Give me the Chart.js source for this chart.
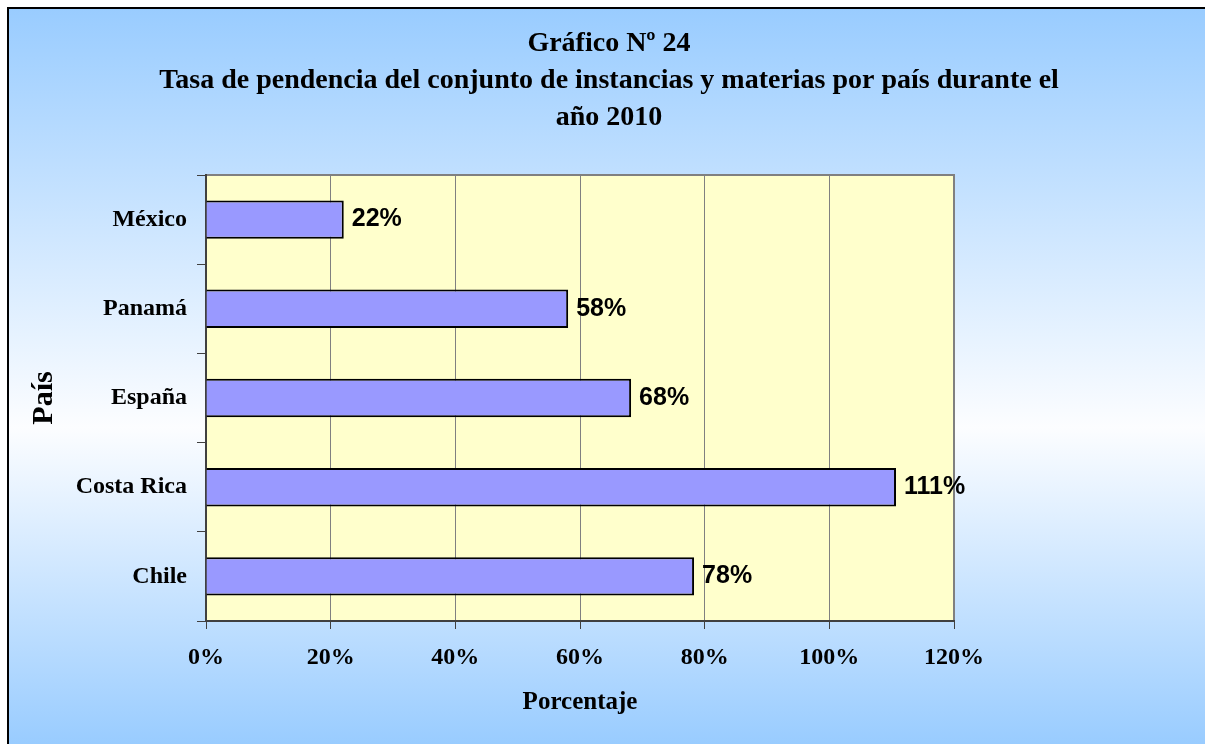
<!DOCTYPE html>
<html>
<head>
<meta charset="utf-8">
<script src="https://cdn.jsdelivr.net/npm/chart.js@4.4.0/dist/chart.umd.min.js"></script>
<style>
    html, body { margin: 0; padding: 0; background: #ffffff; }
    #myChart { display: block; }
</style>
</head>
<body>
<canvas id="myChart" width="1205" height="744"></canvas>
<script>
// Data
const countries = ["México", "Panamá", "España", "Costa Rica", "Chile"];
const pendingRates = [22.1, 58.1, 68.2, 110.7, 78.3];  // % per country
const xTickValues = [0, 20, 40, 60, 80, 100, 120];     // x axis ticks (%)

const titleLines = [
    "Gráfico Nº 24",
    "Tasa de pendencia del conjunto de instancias y materias por país durante el",
    "año 2010"
];

const serif = "'Liberation Serif', 'Times New Roman', serif";
const sans = "'Liberation Sans', Arial, sans-serif";

// background gradient + frame + plot area fill
const backgroundPlugin = {
    id: "background",
    beforeDraw(chart) {
        const ctx = chart.ctx;
        const w = chart.width, h = chart.height;
        const area = chart.chartArea;
        ctx.save();
        ctx.fillStyle = "#ffffff";
        ctx.fillRect(0, 0, w, h);

        const grad = ctx.createLinearGradient(0, 8, 0, h);
        grad.addColorStop(0, "#99ccff");
        grad.addColorStop(0.57, "#fcfdff");
        grad.addColorStop(1, "#99ccff");
        ctx.fillStyle = grad;
        ctx.fillRect(8, 8, w - 8, h - 8);

        ctx.strokeStyle = "#000000";
        ctx.lineWidth = 2;
        ctx.beginPath();
        ctx.moveTo(8, h);
        ctx.lineTo(8, 8);
        ctx.lineTo(w, 8);
        ctx.stroke();

        // plot area
        ctx.fillStyle = "#ffffcc";
        ctx.fillRect(area.left, area.top, area.right - area.left, area.bottom - area.top);
        ctx.strokeStyle = "#808080";
        ctx.lineWidth = 2;
        ctx.strokeRect(area.left, area.top, area.right - area.left, area.bottom - area.top);
        ctx.restore();
    }
};

// value labels right of each bar
const valueLabelPlugin = {
    id: "valueLabels",
    afterDatasetsDraw(chart) {
        const ctx = chart.ctx;
        const meta = chart.getDatasetMeta(0);
        ctx.save();
        ctx.font = "bold 25px " + sans;
        ctx.fillStyle = "#000000";
        ctx.textAlign = "left";
        ctx.textBaseline = "middle";
        meta.data.forEach((bar, i) => {
            ctx.fillText(Math.round(pendingRates[i]) + "%", bar.x + 8, bar.y);
        });
        ctx.restore();
    }
};

const data = {
    labels: countries,
    datasets: [{
        data: pendingRates,
        backgroundColor: "#9999ff",
        borderColor: "#000000",
        borderWidth: 2,
        barPercentage: 0.43,
        categoryPercentage: 1.0,
    }],
};

const config = {
    type: "bar",
    data: data,
    plugins: [backgroundPlugin, valueLabelPlugin],
    options: {
        indexAxis: "y",
        responsive: false,
        animation: false,
        devicePixelRatio: 1,
        layout: {
            padding: { left: 13, right: 0, top: 0, bottom: 0 }
        },
        plugins: {
            legend: { display: false },
            tooltip: { enabled: false },
            title: {
                display: true,
                text: titleLines,
                color: "#000000",
                font: { family: serif, size: 28, weight: "bold", lineHeight: 37 / 28 },
                padding: { top: 25.5, bottom: 38.5 },
            },
        },
        scales: {
            x: {
                min: 0,
                max: 120,
                afterBuildTicks: (scale) => {
                    scale.ticks = xTickValues.map(v => ({ value: v }));
                },
                afterFit: (scale) => {
                    scale.height = 123;
                    scale.paddingLeft = 0;
                    scale.paddingRight = 251;
                },
                ticks: {
                    callback: (v) => v + "%",
                    color: "#000000",
                    padding: 14,
                    font: { family: serif, size: 24, weight: "bold" },
                },
                grid: {
                    color: "#808080",
                    lineWidth: 1,
                    tickLength: 8,
                    tickColor: "#404040",
                },
                border: { display: true, color: "#404040", width: 2 },
                title: {
                    display: true,
                    text: "Porcentaje",
                    color: "#000000",
                    padding: { top: 0, bottom: 26 },
                    font: { family: serif, size: 25, weight: "bold" },
                },
            },
            y: {
                afterFit: (scale) => {
                    scale.width = 193;
                },
                ticks: {
                    color: "#000000",
                    padding: 10,
                    font: { family: serif, size: 24, weight: "bold" },
                },
                grid: {
                    offset: true,
                    drawOnChartArea: false,
                    tickLength: 9,
                    color: "#404040",
                },
                border: { display: true, color: "#404040", width: 2 },
                title: {
                    display: true,
                    text: "País",
                    color: "#000000",
                    padding: { top: 13, bottom: 0 },
                    font: { family: serif, size: 30, weight: "bold" },
                },
            },
        },
    },
};

const myChart = new Chart(document.getElementById("myChart"), config);
</script>
</body>
</html>
